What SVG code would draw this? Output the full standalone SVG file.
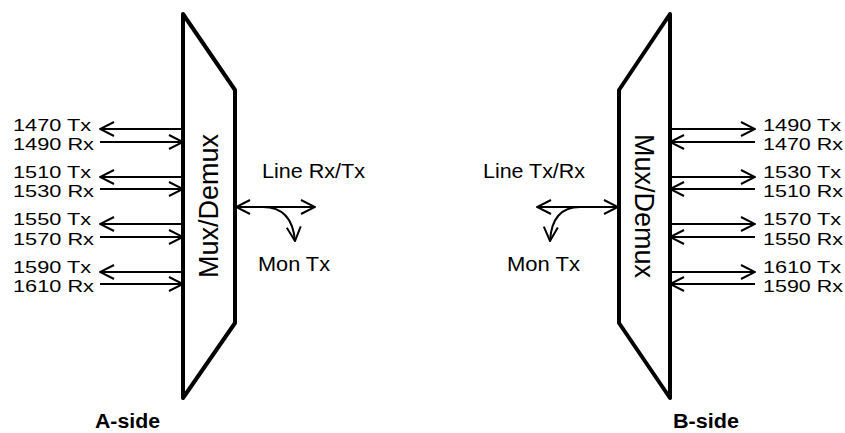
<svg xmlns="http://www.w3.org/2000/svg" width="845" height="433" viewBox="0 0 845 433">
<defs>
<style>
.t{font-family:"Liberation Sans",Arial,sans-serif;font-size:17px;fill:#000}
.s{font-family:"Liberation Sans",Arial,sans-serif;font-size:19.5px;fill:#000}
.b{font-family:"Liberation Sans",Arial,sans-serif;font-size:20px;font-weight:bold;fill:#000}
.m{font-family:"Liberation Sans",Arial,sans-serif;font-size:27px;fill:#000}
.box{fill:none;stroke:#000;stroke-width:4;stroke-linejoin:round}
.ln{fill:none;stroke:#000;stroke-width:2}
</style>
<marker id="ah" viewBox="0 0 16 16" refX="15" refY="8" markerWidth="16" markerHeight="16" markerUnits="userSpaceOnUse" orient="auto-start-reverse">
<path d="M1,1 L15,8 L1,15" fill="none" stroke="#000" stroke-width="2"/>
</marker>
</defs>
<g id="muxA">
<polygon class="box" points="183,14 235,90 235,323 183,398"/>
<text class="m" transform="translate(218,206) rotate(-90)" text-anchor="middle">Mux/Demux</text>
</g>
<g id="muxB">
<polygon class="box" points="670,14 619,90 619,323 670,398"/>
<text class="m" transform="translate(635,206) rotate(90)" text-anchor="middle">Mux/Demux</text>
</g>
<g id="labelsA">
<text class="t" x="13" y="130.5" textLength="78" lengthAdjust="spacingAndGlyphs">1470 Tx</text>
<text class="t" x="13" y="150" textLength="81" lengthAdjust="spacingAndGlyphs">1490 Rx</text>
<text class="t" x="13" y="177.5" textLength="78" lengthAdjust="spacingAndGlyphs">1510 Tx</text>
<text class="t" x="13" y="197" textLength="81" lengthAdjust="spacingAndGlyphs">1530 Rx</text>
<text class="t" x="13" y="225" textLength="78" lengthAdjust="spacingAndGlyphs">1550 Tx</text>
<text class="t" x="13" y="244.5" textLength="81" lengthAdjust="spacingAndGlyphs">1570 Rx</text>
<text class="t" x="13" y="272.5" textLength="78" lengthAdjust="spacingAndGlyphs">1590 Tx</text>
<text class="t" x="13" y="292" textLength="81" lengthAdjust="spacingAndGlyphs">1610 Rx</text>
<text class="s" x="262" y="178" textLength="103" lengthAdjust="spacingAndGlyphs">Line Rx/Tx</text>
<text class="s" x="258" y="271" textLength="72" lengthAdjust="spacingAndGlyphs">Mon Tx</text>
<text class="b" x="95" y="428" textLength="65" lengthAdjust="spacingAndGlyphs">A-side</text>
</g>
<g id="labelsB">
<text class="t" x="763" y="130.5" textLength="78" lengthAdjust="spacingAndGlyphs">1490 Tx</text>
<text class="t" x="763" y="150" textLength="80" lengthAdjust="spacingAndGlyphs">1470 Rx</text>
<text class="t" x="763" y="177.5" textLength="78" lengthAdjust="spacingAndGlyphs">1530 Tx</text>
<text class="t" x="763" y="197" textLength="80" lengthAdjust="spacingAndGlyphs">1510 Rx</text>
<text class="t" x="763" y="225" textLength="78" lengthAdjust="spacingAndGlyphs">1570 Tx</text>
<text class="t" x="763" y="244.5" textLength="80" lengthAdjust="spacingAndGlyphs">1550 Rx</text>
<text class="t" x="763" y="272.5" textLength="78" lengthAdjust="spacingAndGlyphs">1610 Tx</text>
<text class="t" x="763" y="292" textLength="80" lengthAdjust="spacingAndGlyphs">1590 Rx</text>
<text class="s" x="483" y="178" textLength="102" lengthAdjust="spacingAndGlyphs">Line Tx/Rx</text>
<text class="s" x="507" y="271" textLength="73" lengthAdjust="spacingAndGlyphs">Mon Tx</text>
<text class="b" x="673" y="428" textLength="66" lengthAdjust="spacingAndGlyphs">B-side</text>
</g>
<g id="connectors">
<line class="ln" x1="183" y1="129" x2="100" y2="129" marker-end="url(#ah)"/>
<line class="ln" x1="100" y1="142" x2="183" y2="142" marker-end="url(#ah)"/>
<line class="ln" x1="183" y1="177" x2="100" y2="177" marker-end="url(#ah)"/>
<line class="ln" x1="100" y1="189" x2="183" y2="189" marker-end="url(#ah)"/>
<line class="ln" x1="183" y1="224" x2="100" y2="224" marker-end="url(#ah)"/>
<line class="ln" x1="100" y1="237" x2="183" y2="237" marker-end="url(#ah)"/>
<line class="ln" x1="183" y1="272" x2="100" y2="272" marker-end="url(#ah)"/>
<line class="ln" x1="100" y1="284" x2="183" y2="284" marker-end="url(#ah)"/>
<line class="ln" x1="670" y1="129" x2="755" y2="129" marker-end="url(#ah)"/>
<line class="ln" x1="755" y1="142" x2="670" y2="142" marker-end="url(#ah)"/>
<line class="ln" x1="670" y1="177" x2="755" y2="177" marker-end="url(#ah)"/>
<line class="ln" x1="755" y1="189" x2="670" y2="189" marker-end="url(#ah)"/>
<line class="ln" x1="670" y1="224" x2="755" y2="224" marker-end="url(#ah)"/>
<line class="ln" x1="755" y1="237" x2="670" y2="237" marker-end="url(#ah)"/>
<line class="ln" x1="670" y1="272" x2="755" y2="272" marker-end="url(#ah)"/>
<line class="ln" x1="755" y1="284" x2="670" y2="284" marker-end="url(#ah)"/>
<line class="ln" x1="236" y1="207" x2="315" y2="207" marker-start="url(#ah)" marker-end="url(#ah)"/>
<path class="ln" d="M263,207 Q292,207 295,241" marker-end="url(#ah)"/>
<line class="ln" x1="537" y1="207" x2="618" y2="207" marker-start="url(#ah)" marker-end="url(#ah)"/>
<path class="ln" d="M580,207 Q552,207 550,241" marker-end="url(#ah)"/>
</g>
</svg>
